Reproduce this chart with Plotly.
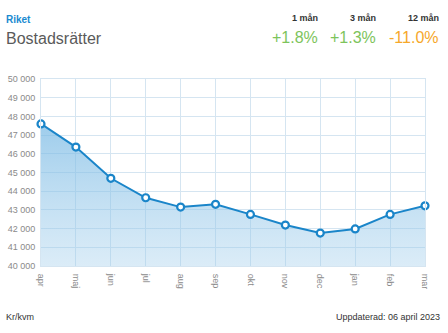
import plotly.graph_objects as go

months = ["apr", "maj", "jun", "jul", "aug", "sep", "okt", "nov", "dec", "jan", "feb", "mar"]
prices = [47600, 46360, 44690, 43650, 43150, 43300, 42760, 42190, 41760, 41980, 42760, 43220]
y_ticks = [40000, 41000, 42000, 43000, 44000, 45000, 46000, 47000, 48000, 49000, 50000]
y_tick_labels = ["40 000", "41 000", "42 000", "43 000", "44 000", "45 000", "46 000", "47 000", "48 000", "49 000", "50 000"]
period_labels = ["1 mån", "3 mån", "12 mån"]
period_changes = ["+1.8%", "+1.3%", "-11.0%"]
period_colors = ["#7dc45b", "#7dc45b", "#f6a82a"]

W, H = 448, 333
L, R, T, B = 41, 23, 79, 67
PW, PH = W - L - R, H - T - B

def px(x):
    return (x - L) / PW

def py(y):
    return (H - B - y) / PH

FONT = "Liberation Sans, Arial, Helvetica, sans-serif"
BLUE = "#1a85c9"

fig = go.Figure()
fig.add_trace(go.Scatter(
    x=months, y=prices, mode="lines+markers",
    line=dict(color=BLUE, width=2),
    marker=dict(size=7, color="white", line=dict(color=BLUE, width=2.2)),
    fill="tozeroy",
    fillgradient=dict(type="vertical", start=40000, stop=47600,
                      colorscale=[[0, "rgba(160,205,235,0.38)"], [1, "rgba(120,185,228,0.72)"]]),
    hoverinfo="skip", cliponaxis=False,
))

annotations = [
    dict(text="Riket", x=px(4), y=py(19), xanchor="left", yanchor="middle",
         font=dict(size=10, color="#1a8ad0", family=FONT, weight=600)),
    dict(text="Bostadsrätter", x=px(4), y=py(38), xanchor="left", yanchor="middle",
         font=dict(size=16, color="#5a5a5a", family=FONT)),
    dict(text="Kr/kvm", x=px(4), y=py(317), xanchor="left", yanchor="middle",
         font=dict(size=9, color="#333333", family=FONT)),
    dict(text="Uppdaterad: 06 april 2023", x=px(442), y=py(317), xanchor="right", yanchor="middle",
         font=dict(size=9, color="#333333", family=FONT)),
]
rights = [320, 378, 441]
for lab, chg, col, r in zip(period_labels, period_changes, period_colors, rights):
    annotations.append(dict(text=lab, x=px(r), y=py(18), xanchor="right", yanchor="middle",
                            font=dict(size=9, color="#333333", family=FONT, weight=600)))
    annotations.append(dict(text=chg, x=px(r), y=py(37), xanchor="right", yanchor="middle",
                            font=dict(size=16, color=col, family=FONT)))
for a in annotations:
    a.update(xref="paper", yref="paper", showarrow=False)

fig.update_layout(
    width=W, height=H,
    margin=dict(l=L, r=R, t=T, b=B, pad=0, autoexpand=False),
    paper_bgcolor="white", plot_bgcolor="white",
    showlegend=False,
    annotations=annotations,
    font=dict(family=FONT),
    xaxis=dict(
        range=[0, 11], showgrid=True, gridcolor="#d5e5f1", gridwidth=1,
        zeroline=False, showline=True, linecolor="#d5e5f1", mirror=True,
        tickangle=90, tickfont=dict(size=9, color="#8a8a8a"), ticks="",
        ticklabelstandoff=5, fixedrange=True, automargin=False,
    ),
    yaxis=dict(
        range=[40000, 50000], tickvals=y_ticks, ticktext=y_tick_labels,
        showgrid=True, gridcolor="#d5e5f1", gridwidth=1,
        zeroline=False, showline=True, linecolor="#d5e5f1", mirror=True,
        tickfont=dict(size=9, color="#8a8a8a"), ticks="", ticklabelstandoff=3,
        fixedrange=True, automargin=False,
    ),
)
fig.update_xaxes(type="category")

fig.write_html("out.html", config={"displayModeBar": False})
